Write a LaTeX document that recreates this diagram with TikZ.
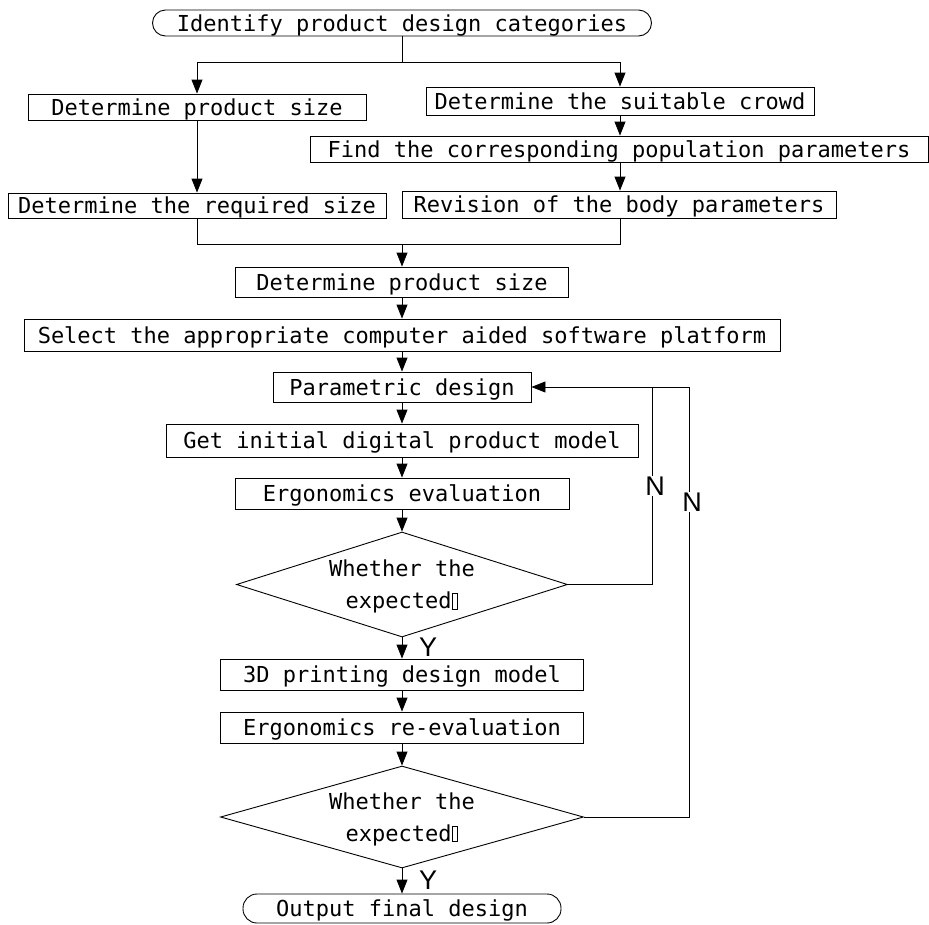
\documentclass[tikz,border=0pt]{standalone}
\usepackage{fontspec}
\setmainfont{DejaVu Sans Mono}
\newfontfamily\labfont{Liberation Sans}
\usetikzlibrary{shapes.geometric,arrows.meta}
\newcommand\qbox{{\setlength\fboxsep{0pt}\setlength\fboxrule{0.8pt}\fbox{\rule{0pt}{15pt}\hspace{5pt}}}}
\begin{document}
\begin{tikzpicture}[x=1pt,y=-1pt,
  every node/.style={font=\fontsize{22}{32}\selectfont},
  box/.style={draw,line width=0.9pt,inner sep=0pt,text height=16pt,text depth=0pt},
  term/.style={box,rounded corners=13pt},
  dec/.style={draw,line width=0.9pt,diamond,shape aspect=3.2,inner sep=0pt,align=center,text depth=0pt},
  arr/.style={line width=0.9pt,-{Triangle[length=14pt,width=11pt]}},
  ln/.style={line width=0.9pt},
  lab/.style={font=\labfont\fontsize{27}{30}\selectfont,inner sep=1pt}]
\useasboundingbox (0,0) rectangle (929,924);

\node[term,minimum width=499pt,minimum height=26pt] (top) at (402,23) {Identify product design categories};
\node[box,minimum width=338pt,minimum height=26pt] (size1) at (197,107) {Determine product size};
\node[box,minimum width=388pt,minimum height=28pt] (crowd) at (620,101) {Determine the suitable crowd};
\node[box,minimum width=618pt,minimum height=26pt] (find) at (619,149) {Find the corresponding population parameters};
\node[box,minimum width=378pt,minimum height=25pt] (req) at (197,205.5) {Determine the required size};
\node[box,minimum width=434pt,minimum height=27pt] (rev) at (619,204.5) {Revision of the body parameters};
\node[box,minimum width=333pt,minimum height=30pt] (size2) at (402,282) {Determine product size};
\node[box,minimum width=756pt,minimum height=32pt] (sel) at (402,335) {Select the appropriate computer aided software platform};
\node[box,minimum width=258pt,minimum height=30pt] (param) at (402,387) {Parametric design};
\node[box,minimum width=472pt,minimum height=33pt] (init) at (402,440.5) {Get initial digital product model};
\node[box,minimum width=334pt,minimum height=31pt] (ergo) at (402,493.5) {Ergonomics evaluation};
\node[dec,minimum width=331pt,minimum height=105pt] (d1) at (402,584.5) {Whether the\\expected\qbox};
\node[box,minimum width=363pt,minimum height=31pt] (print) at (402,674.5) {3D printing design model};
\node[box,minimum width=363pt,minimum height=31pt] (reeval) at (402,727.5) {Ergonomics re-evaluation};
\node[dec,minimum width=363pt,minimum height=102pt] (d2) at (402,817) {Whether the\\expected\qbox};
\node[term,minimum width=318pt,minimum height=29pt,rounded corners=14pt] (out) at (402,908.5) {Output final design};

\coordinate (split) at (402,62);
\coordinate (join) at (402,244);
\coordinate (loopA) at (652,387);
\coordinate (loopB) at (689,387);

\draw[ln] (top.south) -- (split);
\draw[arr] (split) -| (size1.north);
\draw[arr] (split) -| (crowd.north);
\draw[arr] (size1.south) -- (req.north);
\draw[arr] (crowd.south) -- (find.north -| crowd.south);
\draw[arr] (find.south -| crowd.south) -- (rev.north -| crowd.south);
\draw[ln] (req.south) |- (join);
\draw[ln] (rev.south -| crowd.south) |- (join);
\draw[arr] (join) -- (size2.north);
\draw[arr] (size2.south) -- (sel.north);
\draw[arr] (sel.south) -- (param.north);
\draw[arr] (param.south) -- (init.north);
\draw[arr] (init.south) -- (ergo.north);
\draw[arr] (ergo.south) -- (d1.north);
\draw[arr] (d1.south) -- (print.north);
\draw[arr] (print.south) -- (reeval.north);
\draw[arr] (reeval.south) -- (d2.north);
\draw[arr] (d2.south) -- (out.north);
\draw[arr] (d1.east) -| (loopA) -- (param.east);
\draw[ln] (d2.east) -| (loopB) -- (loopA);

\node[lab,fill=white] (n1) at (655,486) {N};
\node[lab,fill=white] (n2) at (692,502) {N};
\node[lab] (y1) at (428,647) {Y};
\node[lab] (y2) at (428,880) {Y};
\end{tikzpicture}
\end{document}
